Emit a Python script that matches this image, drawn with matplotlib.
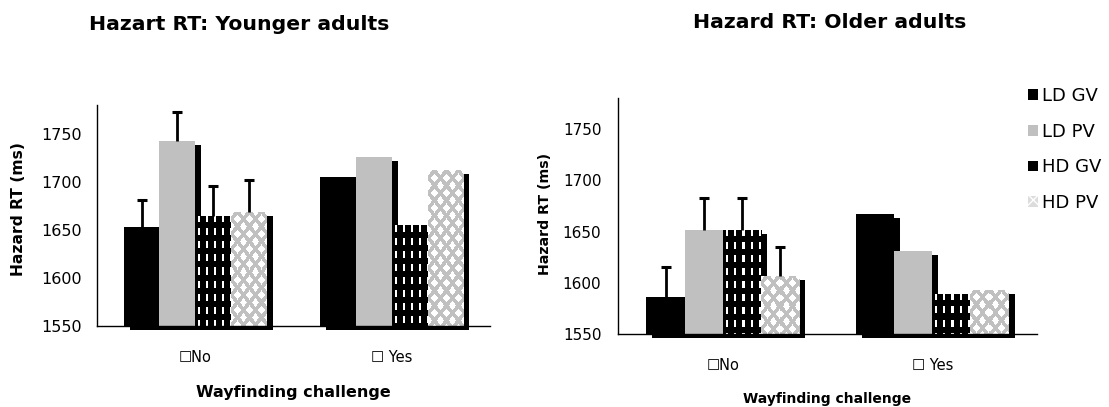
import numpy as np
import matplotlib
matplotlib.use("Agg")
import matplotlib.pyplot as plt
from matplotlib.patches import Patch
from matplotlib.transforms import offset_copy

# data
categories = ["\u2610No", "\u2610 Yes"]
series = ["LD GV", "LD PV", "HD GV", "HD PV"]

young_no = [1653, 1743, 1665, 1669]
young_yes = [1705, 1726, 1655, 1712]
young_err_no = [28, 30, 31, 33]

old_no = [1586, 1652, 1652, 1607]
old_yes = [1667, 1631, 1589, 1593]
old_err_no = [30, 31, 31, 28]

y_ticks = [1550, 1600, 1650, 1700, 1750]
y_min, y_max = 1550, 1780

GRAY = "#c0c0c0"
BAR_W = 0.182


def dash_pattern(h, w):
    # black with white vertical dashes
    rows, cols = np.mgrid[0:h, 0:w]
    img = np.zeros((h, w, 3))
    mask = (cols % 8 >= 3) & (cols % 8 < 5) & ((rows % 13) < 7)
    img[mask] = 1.0
    return img


def diamond_pattern(h, w):
    # white diamonds separated by grey diagonal lines
    rows, cols = np.mgrid[0:h, 0:w]
    u = cols / 12 + rows / 15
    v = cols / 12 - rows / 15
    du = np.abs(u - np.round(u))
    dv = np.abs(v - np.round(v))
    img = np.full((h, w, 3), 0.753)
    img[np.maximum(du, dv) < 0.3] = 1.0
    return img


def fill_pattern(ax, rect, maker):
    bb = rect.get_window_extent()
    w = max(int(round(bb.width)), 1)
    h = max(int(round(bb.height)), 1)
    x0, y0 = rect.get_x(), rect.get_y()
    im = ax.imshow(maker(h, w), extent=(x0, x0 + rect.get_width(), y0, y0 + rect.get_height()),
                   aspect="auto", interpolation="nearest", zorder=2.5)
    im.set_clip_path(rect)


def draw_panel(fig, ax, no_vals, yes_vals, err_no):
    vals = np.array([no_vals, yes_vals], dtype=float)
    xs = np.arange(len(categories))
    ax.set_xlim(-0.5, 1.5)
    ax.set_ylim(y_min, y_max)
    ax.set_autoscale_on(False)

    shadow_tr = offset_copy(ax.transData, fig=fig, x=6, y=-4, units="dots")
    colors = ["black", GRAY, "black", GRAY]
    makers = [None, None, dash_pattern, diamond_pattern]

    for j in range(len(series)):
        x = xs + (j - 1.5) * BAR_W
        ax.bar(x, vals[:, j] - y_min, bottom=y_min, width=BAR_W, color="black",
               transform=shadow_tr, clip_on=False, zorder=1, linewidth=0)

    for j in range(len(series)):
        x = xs + (j - 1.5) * BAR_W
        bars = ax.bar(x, vals[:, j] - y_min, bottom=y_min, width=BAR_W,
                      color=colors[j], zorder=2, linewidth=0)
        if makers[j] is not None:
            for rect in bars:
                fill_pattern(ax, rect, makers[j])
        # upper error bar, only on the "No" group
        top = vals[0, j] + err_no[j]
        ax.vlines(x[0], vals[0, j], top, color="black", linewidth=2, zorder=3)
        ax.plot([x[0]], [top], marker="_", markersize=7, markeredgewidth=2.2,
                color="black", zorder=3)

    ax.set_xlim(-0.5, 1.5)
    ax.set_ylim(y_min, y_max)
    ax.set_xticks(xs)
    ax.set_xticklabels(categories)
    ax.set_yticks(y_ticks)
    ax.spines["top"].set_visible(False)
    ax.spines["right"].set_visible(False)
    for s in ("left", "bottom"):
        ax.spines[s].set_color("black")
        ax.spines[s].set_linewidth(1)


plt.rcParams["font.family"] = ["DejaVu Sans"]

fig = plt.figure(figsize=(11.09, 4.07), dpi=100)

ax1 = fig.add_axes([97 / 1109, 81 / 407, 393 / 1109, 221 / 407])
ax2 = fig.add_axes([618 / 1109, 72.7 / 407, 419 / 1109, 236 / 407])

draw_panel(fig, ax1, young_no, young_yes, young_err_no)
draw_panel(fig, ax2, old_no, old_yes, old_err_no)

ax1.tick_params(axis="y", length=0, pad=11, labelsize=11.5)
ax1.tick_params(axis="x", length=0, pad=17, labelsize=10.5)
ax2.tick_params(axis="y", length=0, pad=12, labelsize=11)
ax2.tick_params(axis="x", length=0, pad=17, labelsize=10.5)

ax1.set_ylabel("Hazard RT (ms)", fontsize=11.2, fontweight="bold")
ax1.yaxis.set_label_coords(-71 / 393, 0.53)
ax2.set_ylabel("Hazard RT (ms)", fontsize=10.2, fontweight="bold")
ax2.yaxis.set_label_coords(-66 / 419, 0.51)

ax1.set_xlabel("Wayfinding challenge", fontsize=11.5, fontweight="bold", va="center")
ax1.xaxis.set_label_coords(0.5, -67 / 221)
ax2.set_xlabel("Wayfinding challenge", fontsize=10, fontweight="bold", va="center")
ax2.xaxis.set_label_coords(0.5, -65 / 236)

fig.text(239 / 1109, 1 - 25 / 407, "Hazart RT: Younger adults", fontsize=14.7,
         fontweight="bold", ha="center", va="center")
fig.text(830 / 1109, 1 - 22 / 407, "Hazard RT: Older adults", fontsize=14.7,
         fontweight="bold", ha="center", va="center")

handles = [
    Patch(facecolor="black", linewidth=0),
    Patch(facecolor=GRAY, linewidth=0),
    Patch(facecolor="black", edgecolor="white", hatch="|", linewidth=0),
    Patch(facecolor="#dcdcdc", edgecolor="white", hatch="xx", linewidth=0),
]
fig.legend(handles, series, loc="upper left", bbox_to_anchor=(1028 / 1109, 1 - 87 / 407),
           frameon=False, fontsize=13, handlelength=0.55, handleheight=0.55,
           handletextpad=0.25, labelspacing=0.98, borderaxespad=0, borderpad=0)

fig.savefig("out.png", dpi=100)
